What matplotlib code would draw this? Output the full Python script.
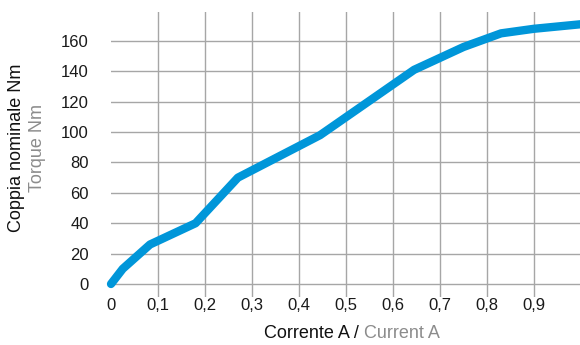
import matplotlib
matplotlib.use('Agg')
import matplotlib.pyplot as plt

plt.rcParams['font.family'] = ['Liberation Sans', 'DejaVu Sans']

# dati
corrente = [0, 0.025, 0.083, 0.18, 0.27, 0.445, 0.645, 0.75, 0.83, 0.9, 1.0]
coppia = [0, 10, 26, 40, 70, 98, 141, 156, 165, 168, 171]

x_ticks = [0, 0.1, 0.2, 0.3, 0.4, 0.5, 0.6, 0.7, 0.8, 0.9]
x_labels = ['0', '0,1', '0,2', '0,3', '0,4', '0,5', '0,6', '0,7', '0,8', '0,9']
y_ticks = [0, 20, 40, 60, 80, 100, 120, 140, 160]

grid_col = '#a6a6a6'
blue = '#0096d9'

fig = plt.figure(figsize=(5.8, 3.45), dpi=100)
ax = fig.add_axes([0.1914, 0.139, 0.8086, 0.826])

for y in y_ticks:
    ax.axhline(y, color=grid_col, lw=1.0, zorder=1)
for x in x_ticks[1:]:
    ax.axvline(x, color=grid_col, lw=1.0, zorder=1)

ax.plot(corrente, coppia, color=blue, lw=6, solid_capstyle='round',
        solid_joinstyle='round', zorder=3, clip_on=False)

ax.set_xlim(0, 0.998)
ax.set_ylim(-8.6, 179)
ax.set_xticks(x_ticks)
ax.set_xticklabels(x_labels)
ax.set_yticks(y_ticks)
ax.tick_params(axis='both', length=0, labelsize=12, colors='#1a1a1a')
ax.tick_params(axis='x', pad=1)
ax.tick_params(axis='y', pad=16)
for s in ax.spines.values():
    s.set_visible(False)

# titoli assi
fig.text(17 / 580, 1 - 148 / 345, 'Coppia nominale Nm', rotation=90,
         ha='center', va='center', fontsize=13, color='#111111')
fig.text(37 / 580, 1 - 148 / 345, 'Torque Nm', rotation=90,
         ha='center', va='center', fontsize=13, color='#8c8c8c')
fig.text(359 / 580, 1 - 334 / 345, 'Corrente A /', ha='right', va='center',
         fontsize=13, color='#111111')
fig.text(364 / 580, 1 - 334 / 345, 'Current A', ha='left', va='center',
         fontsize=13, color='#8c8c8c')

fig.savefig('out.png', dpi=100)
